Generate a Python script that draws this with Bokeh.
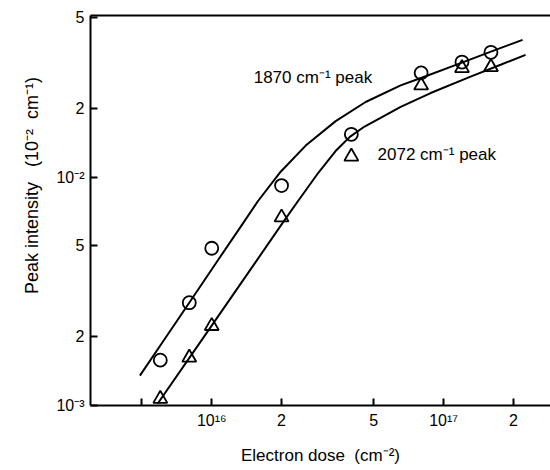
from bokeh.plotting import figure
from bokeh.models import LogAxis, FixedTicker, Label, Range1d
from bokeh.embed import file_html
from bokeh.resources import INLINE

# ---- data ----
dose = [6.0e15, 8.0e15, 1.0e16, 2.0e16, 4.0e16, 8.0e16, 1.2e17, 1.6e17]
peak_1870 = [1.58e-3, 2.82e-3, 4.88e-3, 9.18e-3, 1.54e-2, 2.86e-2, 3.19e-2, 3.52e-2]
peak_2072 = [1.07e-3, 1.62e-3, 2.23e-3, 6.66e-3, 1.23e-2, 2.52e-2, 3.00e-2, 3.03e-2]

# fitted curves (sampled along the drawn lines)
fit_1870_x = [4.90e15, 6.03e15, 8.12e15, 1.072e16, 1.334e16, 1.578e16, 1.983e16, 2.542e16,
              3.424e16, 4.61e16, 6.526e16, 8.04e16, 1.208e17, 1.610e17, 2.190e17]
fit_1870_y = [1.351e-3, 1.846e-3, 2.884e-3, 4.38e-3, 6.07e-3, 7.82e-3, 1.056e-2, 1.374e-2,
              1.758e-2, 2.132e-2, 2.522e-2, 2.724e-2, 3.18e-2, 3.55e-2, 3.99e-2]
fit_2072_x = [5.85e15, 8.97e15, 1.473e16, 2.043e16, 2.348e16, 2.892e16, 3.42e16,
              3.94e16, 4.56e16, 5.35e16, 6.526e16, 8.79e16, 1.307e17, 1.761e17, 2.256e17]
fit_2072_y = [1.020e-3, 1.910e-3, 3.954e-3, 6.40e-3, 7.82e-3, 1.050e-2, 1.300e-2,
              1.500e-2, 1.665e-2, 1.816e-2, 2.029e-2, 2.334e-2, 2.754e-2, 3.103e-2, 3.43e-2]

x_ticks = [5e15, 1e16, 2e16, 5e16, 1e17, 2e17]
x_tick_labels = ["", "10¹⁶", "2", "5", "10¹⁷", "2"]
y_ticks = [1e-3, 2e-3, 5e-3, 1e-2, 2e-2, 5e-2]
y_tick_labels = ["10⁻³", "2", "5", "10⁻²", "2", "5"]

FONT = "Liberation Sans"
NB = "\u00a0"

p = figure(width=550, height=470, x_axis_type="log", y_axis_type="log",
           x_range=Range1d(3.0e15, 2.89e17), y_range=Range1d(1e-3, 5.1e-2),
           output_backend="svg", toolbar_location=None,
           min_border_left=90, min_border_right=0, min_border_top=15,
           min_border_bottom=65)
p.outline_line_color = None
p.xgrid.visible = False
p.ygrid.visible = False
p.background_fill_color = "white"
p.border_fill_color = "white"

for ax, ticks, labels in ((p.xaxis[0], x_ticks, x_tick_labels),
                          (p.yaxis[0], y_ticks, y_tick_labels)):
    ax.ticker = FixedTicker(ticks=ticks, minor_ticks=[])
    ax.major_label_overrides = {t: l for t, l in zip(ticks, labels)}
    ax.axis_line_width = 2
    ax.axis_line_color = "black"
    ax.major_tick_line_width = 2
    ax.major_tick_in = 7
    ax.major_tick_out = 0
    ax.minor_tick_in = 0
    ax.minor_tick_out = 0
    ax.major_label_text_font = FONT
    ax.major_label_text_font_size = "16px"
    ax.major_label_text_color = "black"
    ax.major_label_standoff = 6
    ax.axis_label_text_font = FONT
    ax.axis_label_text_font_size = "17px"
    ax.axis_label_text_font_style = "normal"
    ax.axis_label_text_color = "black"

p.xaxis.axis_label = "Electron dose" + NB * 2 + "(cm⁻²)"
p.xaxis.axis_label_standoff = 14
p.yaxis.axis_label = NB * 10 + "Peak intensity" + NB * 3 + "(10⁻²" + NB * 2 + "cm⁻¹)"
p.yaxis.axis_label_text_font_size = "18px"
p.yaxis.axis_label_standoff = 11

top = LogAxis(ticker=FixedTicker(ticks=[], minor_ticks=[]), axis_line_width=2,
              axis_line_color="black", major_tick_in=0, major_tick_out=0,
              minor_tick_in=0, minor_tick_out=0, major_label_standoff=0,
              major_label_text_font_size="0px")
p.add_layout(top, "above")

p.line(fit_1870_x, fit_1870_y, line_color="black", line_width=2)
p.line(fit_2072_x, fit_2072_y, line_color="black", line_width=2)
p.scatter(dose, peak_1870, marker="circle", size=13, fill_color=None,
          line_color="black", line_width=1.8)
p.scatter(dose, peak_2072, marker="triangle", size=14, fill_color=None,
          line_color="black", line_width=1.8)

p.add_layout(Label(x=1.517e16, y=2.74e-2, text="1870 cm⁻¹ peak",
                   text_font=FONT, text_font_size="17px", text_color="black",
                   text_align="left", text_baseline="middle"))
p.add_layout(Label(x=5.19e16, y=1.253e-2, text="2072 cm⁻¹ peak",
                   text_font=FONT, text_font_size="17px", text_color="black",
                   text_align="left", text_baseline="middle"))

open("out.html", "w").write(file_html(p, INLINE))
